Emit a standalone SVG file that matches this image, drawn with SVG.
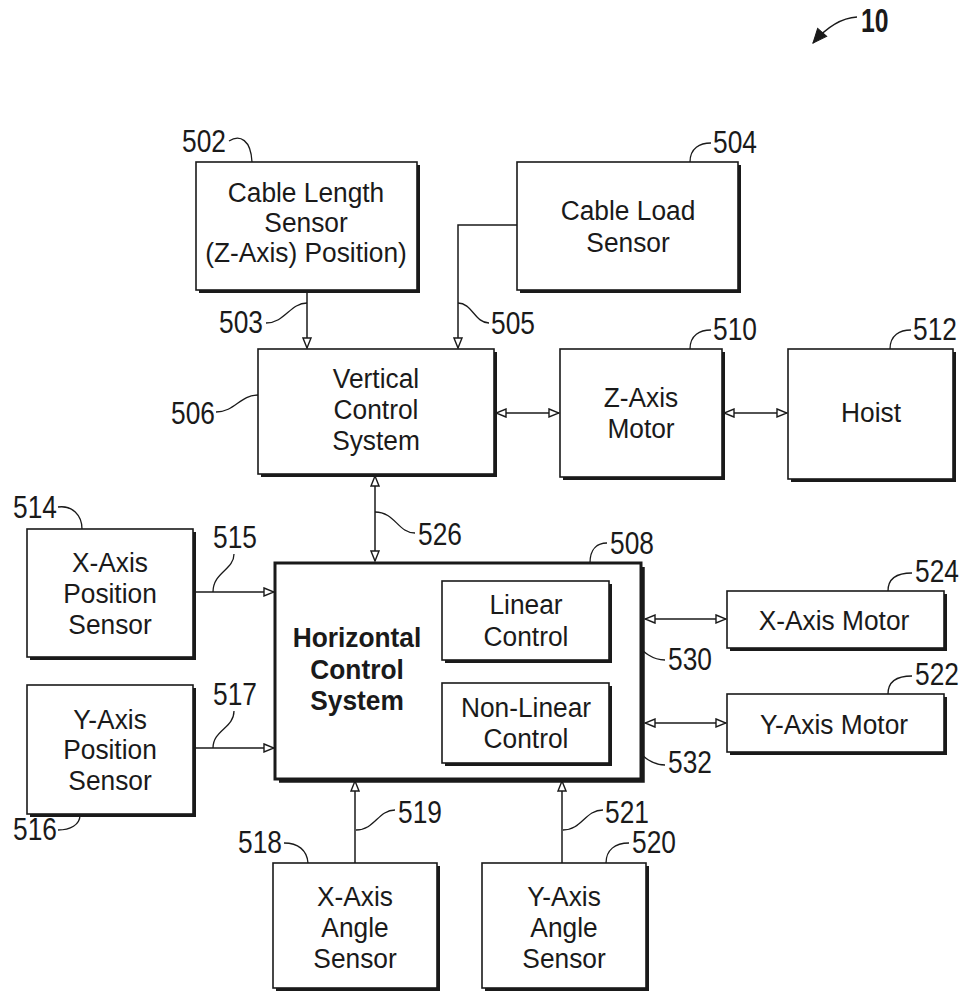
<svg xmlns="http://www.w3.org/2000/svg" width="963" height="993" viewBox="0 0 963 993">
<style>
.bx{fill:#fff;stroke:#1a1a1a;stroke-width:1.6}
.bxh{fill:#fff;stroke:#1a1a1a;stroke-width:3}
.sh{fill:none;stroke:#1a1a1a;stroke-width:3}
.shh{fill:none;stroke:#1a1a1a;stroke-width:4.5}
.t{font-family:"Liberation Sans",Arial,sans-serif;font-size:28px;fill:#1a1a1a;text-anchor:middle}
.tb{font-family:"Liberation Sans",Arial,sans-serif;font-size:28px;font-weight:bold;fill:#1a1a1a;text-anchor:middle}
.n{font-family:"Liberation Sans",Arial,sans-serif;font-size:31px;fill:#1a1a1a}
.nb{font-family:"Liberation Sans",Arial,sans-serif;font-size:33px;font-weight:bold;fill:#1a1a1a}
.ln{fill:none;stroke:#1a1a1a;stroke-width:1.5}
.ld{fill:none;stroke:#1a1a1a;stroke-width:1.3}
</style>
<defs>
<marker id="ah" markerUnits="userSpaceOnUse" markerWidth="12" markerHeight="10" viewBox="0 0 12 10" refX="11" refY="5" orient="auto-start-reverse">
<path d="M1,1 L11,5 L1,9 z" fill="#fff" stroke="#1a1a1a" stroke-width="1.4"/>
</marker>
<marker id="ah10" markerUnits="userSpaceOnUse" markerWidth="16" markerHeight="14" viewBox="0 0 16 14" refX="15" refY="7" orient="auto">
<path d="M1,1 L15,7 L1,13 z" fill="#1a1a1a" stroke="#1a1a1a" stroke-width="1"/>
</marker>
</defs>

<g id="connectors">
<path class="ln" d="M307,291 L307,348" marker-end="url(#ah)"/>
<path class="ln" d="M517,225 L458,225 L458,348" marker-end="url(#ah)"/>
<path class="ln" d="M496,413 L559,413" marker-start="url(#ah)" marker-end="url(#ah)"/>
<path class="ln" d="M724,413 L787,413" marker-start="url(#ah)" marker-end="url(#ah)"/>
<path class="ln" d="M375,476 L375,561" marker-start="url(#ah)" marker-end="url(#ah)"/>
<path class="ln" d="M194,592 L274,592" marker-end="url(#ah)"/>
<path class="ln" d="M194,748 L274,748" marker-end="url(#ah)"/>
<path class="ln" d="M355,863 L355,781" marker-end="url(#ah)"/>
<path class="ln" d="M562,863 L562,781" marker-end="url(#ah)"/>
<path class="ln" d="M645,619 L726,619" marker-start="url(#ah)" marker-end="url(#ah)"/>
<path class="ln" d="M645,723 L726,723" marker-start="url(#ah)" marker-end="url(#ah)"/>
</g>

<g id="leaders">
<path class="ld" d="M229,141 C240,134 251,140 252,162"/>
<path class="ld" d="M690,162 C690,148 700,143 711,143"/>
<path class="ld" d="M266,323 C285,323 290,303 307,303"/>
<path class="ld" d="M458,303 C472,303 475,323 489,323"/>
<path class="ld" d="M216,412 C235,412 240,395 258,395"/>
<path class="ld" d="M690,349 C690,335 700,330 711,330"/>
<path class="ld" d="M890,349 C890,335 900,330 911,330"/>
<path class="ld" d="M58,507 C72,505 82,515 82,529"/>
<path class="ld" d="M234,554 C234,570 213,572 213,592"/>
<path class="ld" d="M234,711 C234,728 213,730 213,748"/>
<path class="ld" d="M58,830 C70,830 80,825 80,815"/>
<path class="ld" d="M375,512 C395,512 398,533 415,533"/>
<path class="ld" d="M590,563 C590,548 598,543 607,543"/>
<path class="ld" d="M888,591 C888,578 898,573 912,573"/>
<path class="ld" d="M888,694 C888,681 898,676 912,676"/>
<path class="ld" d="M610,630 C632,630 640,660 665,660"/>
<path class="ld" d="M610,735 C632,735 640,765 665,765"/>
<path class="ld" d="M356,830 C375,830 378,810 395,810"/>
<path class="ld" d="M563,830 C582,830 585,810 603,810"/>
<path class="ld" d="M284,843 C298,843 307,850 308,863"/>
<path class="ld" d="M606,863 C606,850 615,843 629,843"/>
<path class="ld" d="M857,17 C840,18 826,28 813,43" marker-end="url(#ah10)"/>
</g>

<g id="n502">
<rect class="bx" x="196" y="162" width="221" height="128"/>
<path class="sh" d="M418.5,165 V291.5 H199"/>
<text class="t" transform="translate(306 0) scale(0.94 1)"><tspan x="0" y="202">Cable Length</tspan><tspan x="0" y="232">Sensor</tspan><tspan x="0" y="262">(Z-Axis) Position)</tspan></text>
</g>
<g id="n504">
<rect class="bx" x="517" y="162" width="221" height="128"/>
<path class="sh" d="M739.5,165 V291.5 H520"/>
<text class="t" transform="translate(628 0) scale(0.94 1)"><tspan x="0" y="220">Cable Load</tspan><tspan x="0" y="252">Sensor</tspan></text>
</g>
<g id="n506">
<rect class="bx" x="258" y="349" width="236" height="125"/>
<path class="sh" d="M495.5,352 V475.5 H261"/>
<text class="t" transform="translate(376 0) scale(0.94 1)"><tspan x="0" y="388">Vertical</tspan><tspan x="0" y="419">Control</tspan><tspan x="0" y="450">System</tspan></text>
</g>
<g id="n510">
<rect class="bx" x="560" y="349" width="162" height="128"/>
<path class="sh" d="M723.5,352 V478.5 H563"/>
<text class="t" transform="translate(641 0) scale(0.94 1)"><tspan x="0" y="407">Z-Axis</tspan><tspan x="0" y="438">Motor</tspan></text>
</g>
<g id="n512">
<rect class="bx" x="788" y="349" width="165" height="130"/>
<path class="sh" d="M954.5,352 V480.5 H791"/>
<text class="t" transform="translate(871 0) scale(0.94 1)"><tspan x="0" y="422">Hoist</tspan></text>
</g>
<g id="n514">
<rect class="bx" x="27" y="529" width="166" height="128"/>
<path class="sh" d="M194.5,532 V658.5 H30"/>
<text class="t" transform="translate(110 0) scale(0.94 1)"><tspan x="0" y="572">X-Axis</tspan><tspan x="0" y="603">Position</tspan><tspan x="0" y="634">Sensor</tspan></text>
</g>
<g id="n516">
<rect class="bx" x="27" y="685" width="166" height="129"/>
<path class="sh" d="M194.5,688 V815.5 H30"/>
<text class="t" transform="translate(110 0) scale(0.94 1)"><tspan x="0" y="729">Y-Axis</tspan><tspan x="0" y="759">Position</tspan><tspan x="0" y="790">Sensor</tspan></text>
</g>
<g id="n508">
<rect class="bxh" x="275" y="563" width="366" height="216"/>
<path class="shh" d="M642.5,567 V780.5 H279"/>
<text class="tb" transform="translate(357 0) scale(0.94 1)"><tspan x="0" y="647">Horizontal</tspan><tspan x="0" y="679">Control</tspan><tspan x="0" y="710">System</tspan></text>
</g>
<g id="n530">
<rect class="bx" x="442" y="581" width="167" height="79"/>
<path class="sh" d="M610.5,584 V661.5 H445"/>
<text class="t" transform="translate(526 0) scale(0.94 1)"><tspan x="0" y="614">Linear</tspan><tspan x="0" y="646">Control</tspan></text>
</g>
<g id="n532">
<rect class="bx" x="442" y="683" width="167" height="80"/>
<path class="sh" d="M610.5,686 V764.5 H445"/>
<text class="t" transform="translate(526 0) scale(0.94 1)"><tspan x="0" y="717">Non-Linear</tspan><tspan x="0" y="748">Control</tspan></text>
</g>
<g id="n524">
<rect class="bx" x="727" y="591" width="217" height="57"/>
<path class="sh" d="M945.5,594 V649.5 H730"/>
<text class="t" transform="translate(834 0) scale(0.94 1)"><tspan x="0" y="630">X-Axis Motor</tspan></text>
</g>
<g id="n522">
<rect class="bx" x="727" y="694" width="217" height="58"/>
<path class="sh" d="M945.5,697 V753.5 H730"/>
<text class="t" transform="translate(834 0) scale(0.94 1)"><tspan x="0" y="734">Y-Axis Motor</tspan></text>
</g>
<g id="n518">
<rect class="bx" x="273" y="863" width="164" height="125"/>
<path class="sh" d="M438.5,866 V989.5 H276"/>
<text class="t" transform="translate(355 0) scale(0.94 1)"><tspan x="0" y="906">X-Axis</tspan><tspan x="0" y="937">Angle</tspan><tspan x="0" y="968">Sensor</tspan></text>
</g>
<g id="n520">
<rect class="bx" x="482" y="863" width="164" height="125"/>
<path class="sh" d="M647.5,866 V989.5 H485"/>
<text class="t" transform="translate(564 0) scale(0.94 1)"><tspan x="0" y="906">Y-Axis</tspan><tspan x="0" y="937">Angle</tspan><tspan x="0" y="968">Sensor</tspan></text>
</g>

<g id="labels">
<text class="n" transform="translate(182 152) scale(0.85 1)">502</text>
<text class="n" transform="translate(713 153) scale(0.85 1)">504</text>
<text class="n" transform="translate(219 333) scale(0.85 1)">503</text>
<text class="n" transform="translate(491 334) scale(0.85 1)">505</text>
<text class="n" transform="translate(171 424) scale(0.85 1)">506</text>
<text class="n" transform="translate(713 340) scale(0.85 1)">510</text>
<text class="n" transform="translate(913 340) scale(0.85 1)">512</text>
<text class="n" transform="translate(13 518) scale(0.85 1)">514</text>
<text class="n" transform="translate(213 548) scale(0.85 1)">515</text>
<text class="n" transform="translate(213 705) scale(0.85 1)">517</text>
<text class="n" transform="translate(13 840) scale(0.85 1)">516</text>
<text class="n" transform="translate(418 545) scale(0.85 1)">526</text>
<text class="n" transform="translate(610 554) scale(0.85 1)">508</text>
<text class="n" transform="translate(915 582) scale(0.85 1)">524</text>
<text class="n" transform="translate(915 685) scale(0.85 1)">522</text>
<text class="n" transform="translate(668 670) scale(0.85 1)">530</text>
<text class="n" transform="translate(668 773) scale(0.85 1)">532</text>
<text class="n" transform="translate(398 823) scale(0.85 1)">519</text>
<text class="n" transform="translate(605 823) scale(0.85 1)">521</text>
<text class="n" transform="translate(238 853) scale(0.85 1)">518</text>
<text class="n" transform="translate(632 853) scale(0.85 1)">520</text>
<text class="nb" transform="translate(861 32) scale(0.75 1)">10</text>
</g>
</svg>
